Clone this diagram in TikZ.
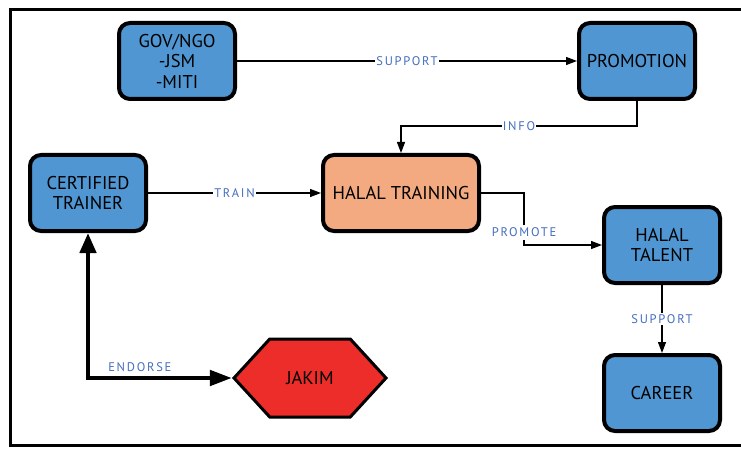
\documentclass[tikz,border=0pt]{standalone}
\usepackage{fontspec}
\setmainfont{PT Sans}
\newfontfamily\lblfont[LetterSpace=14]{PT Sans}
\usepackage{xcolor}
\usepackage{tikz}
\usetikzlibrary{positioning, arrows.meta, shapes.symbols}

\definecolor{boxblue}{RGB}{80,150,210}
\definecolor{trainorange}{RGB}{244,170,128}
\definecolor{jakimred}{RGB}{236,45,41}
\definecolor{labelblue}{RGB}{68,110,190}

\begin{document}
\begin{tikzpicture}[
  x=1pt, y=-1pt,
  node distance=40pt and 40pt,
  box/.style={draw, rounded corners=11pt, line width=4pt, minimum width=116pt,
              minimum height=76pt, align=center, fill=boxblue,
              font=\fontsize{18.5}{20.5}\selectfont},
  hub/.style={box, fill=trainorange, minimum width=156pt},
  hexa/.style={draw, shape=signal, signal to=west and east, signal pointer angle=95,
               line width=3pt, fill=jakimred, minimum width=152pt, minimum height=78pt,
               font=\fontsize{18.5}{20.5}\selectfont},
  arr/.style={-{Triangle[length=11pt, width=8pt]}, line width=1.3pt},
  bigarr/.style={{Triangle[length=20pt, width=16pt]}-{Triangle[length=22pt, width=15pt]},
                 line width=4.5pt},
  lbl/.style={font=\lblfont\fontsize{12.5}{14}\selectfont, text=labelblue, fill=white,
              inner sep=1pt},
  frame/.style={line width=3pt},
]
\useasboundingbox (0,0) rectangle (741,449);
\draw[frame] (741,10) -| (10,445) -- (741,445);

\node[box] (gov) at (177,61) {GOV/NGO\\-JSM\\-MITI};
\node[box, right=340pt of gov] (promo) {PROMOTION};
\node[box] (cert) at (88,193) {CERTIFIED\\TRAINER};
\node[hub, right=173pt of cert] (train) {HALAL TRAINING};
\node[box] (talent) at (662,245) {HALAL\\TALENT};
\node[box, below=68pt of talent] (career) {CAREER};
\node[hexa] (jakim) at (310,378) {JAKIM};

\draw[arr] (gov) -- node[lbl]{SUPPORT} (promo);
\draw[arr] (promo.south) -- ++(0,25) -| node[lbl, pos=0.25]{INFO} (train.north);
\draw[arr] (cert) -- node[lbl]{TRAIN} (train);
\draw[arr] (train.east) -- ++(43,0) |- node[lbl, pos=0.38, inner ysep=3pt]{PROMOTE} (talent.west);
\draw[arr] (talent) -- node[lbl]{SUPPORT} (career);
\draw[bigarr] (cert.south) |- node[lbl, fill=none, above=3pt, pos=0.68]{ENDORSE} (jakim.west);
\end{tikzpicture}
\end{document}
